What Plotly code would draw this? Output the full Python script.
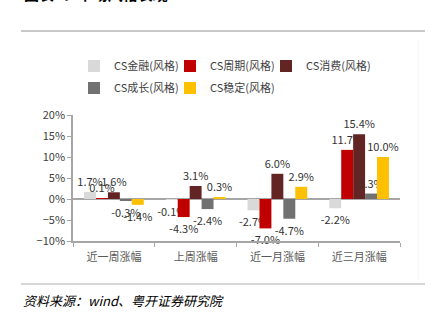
import plotly.graph_objects as go

categories = ["近一周涨幅", "上周涨幅", "近一月涨幅", "近三月涨幅"]
series_names = ["CS金融(风格)", "CS周期(风格)", "CS消费(风格)", "CS成长(风格)", "CS稳定(风格)"]
fin = [1.7, -0.1, -2.7, -2.2]
cyc = [0.1, -4.3, -7.0, 11.7]
con = [1.6, 3.1, 6.0, 15.4]
gro = [-0.3, -2.4, -4.7, 1.3]
sta = [-1.4, 0.3, 2.9, 10.0]
colors = ["#D9D9D9", "#C00000", "#632523", "#717171", "#FFC000"]

W, H = 436, 331
L, R, T, B = 73, 36, 115, 90
PW, PH = W - L - R, H - T - B


def px(xp):
    return (xp - L) / PW


def py(yp):
    return (H - B - yp) / PH


legend_ids = ["legend", "legend2", "legend3", "legend4", "legend5"]
# marker center x and row center y for each legend entry
leg_pos = [(94, 66), (190, 66), (286, 66), (94, 88), (190, 88)]

fig = go.Figure()
for name, vals, col, lg in zip(series_names, [fin, cyc, con, gro, sta], colors, legend_ids):
    fig.add_trace(go.Bar(
        x=categories, y=vals, name=name, marker_color=col, marker_line_width=0,
        text=[f"{v:.1f}%" for v in vals], textposition="outside",
        textfont=dict(size=11, color="#333333", family="Noto Sans CJK SC"),
        cliponaxis=False, legend=lg, showlegend=True,
    ))

legends = {}
for lg, (mx, cy) in zip(legend_ids, leg_pos):
    legends[lg] = dict(orientation="h", x=px(mx - 20), y=py(cy), xanchor="left", yanchor="middle",
                       font=dict(size=11, color="#404040"), itemwidth=30,
                       bgcolor="rgba(0,0,0,0)", visible=True)

fig.update_layout(
    width=W, height=H, margin=dict(l=L, r=R, t=T, b=B),
    paper_bgcolor="white", plot_bgcolor="white", showlegend=True,
    barmode="group", bargap=0.27, bargroupgap=0,
    font=dict(family="Noto Sans CJK SC", size=11, color="#404040"),
    uniformtext=dict(minsize=8, mode="show"),
    xaxis=dict(showline=True, linecolor="#A6A6A6", linewidth=1.5, ticks="outside",
               tickson="boundaries", ticklen=4, tickcolor="#A6A6A6",
               tickfont=dict(size=11, color="#595959"), showgrid=False,
               ticklabelstandoff=5),
    yaxis=dict(range=[-10, 20], dtick=5, ticksuffix="%", showline=True, linecolor="#A6A6A6",
               linewidth=1.5, ticks="outside", ticklen=4, tickcolor="#A6A6A6",
               showgrid=False, zeroline=True, zerolinecolor="#A6A6A6", zerolinewidth=1.5,
               tickfont=dict(size=11, color="#404040")),
    shapes=[
        dict(type="line", xref="paper", yref="paper", x0=px(21), x1=px(425),
             y0=py(31), y1=py(31), line=dict(color="#C8C8C8", width=2)),
        dict(type="line", xref="paper", yref="paper", x0=px(21), x1=px(425),
             y0=py(284), y1=py(284), line=dict(color="#C8C8C8", width=1.5)),
        dict(type="line", xref="paper", yref="paper", x0=px(418), x1=px(418),
             y0=py(40), y1=py(280), line=dict(color="#F2F2F2", width=1)),
    ],
    annotations=[
        dict(text="<b>图表5：市场风格表现</b>", xref="paper", yref="paper",
             x=px(22), y=py(6), xanchor="left", yanchor="bottom",
             showarrow=False, font=dict(size=15, color="#000000")),
        dict(text="<i>资料来源：wind、粤开证券研究院</i>", xref="paper", yref="paper",
             x=px(21), y=py(289), xanchor="left", yanchor="top",
             showarrow=False, font=dict(size=13, color="#000000")),
    ],
)
fig.update_layout(**legends)
fig.write_html("out.html")
